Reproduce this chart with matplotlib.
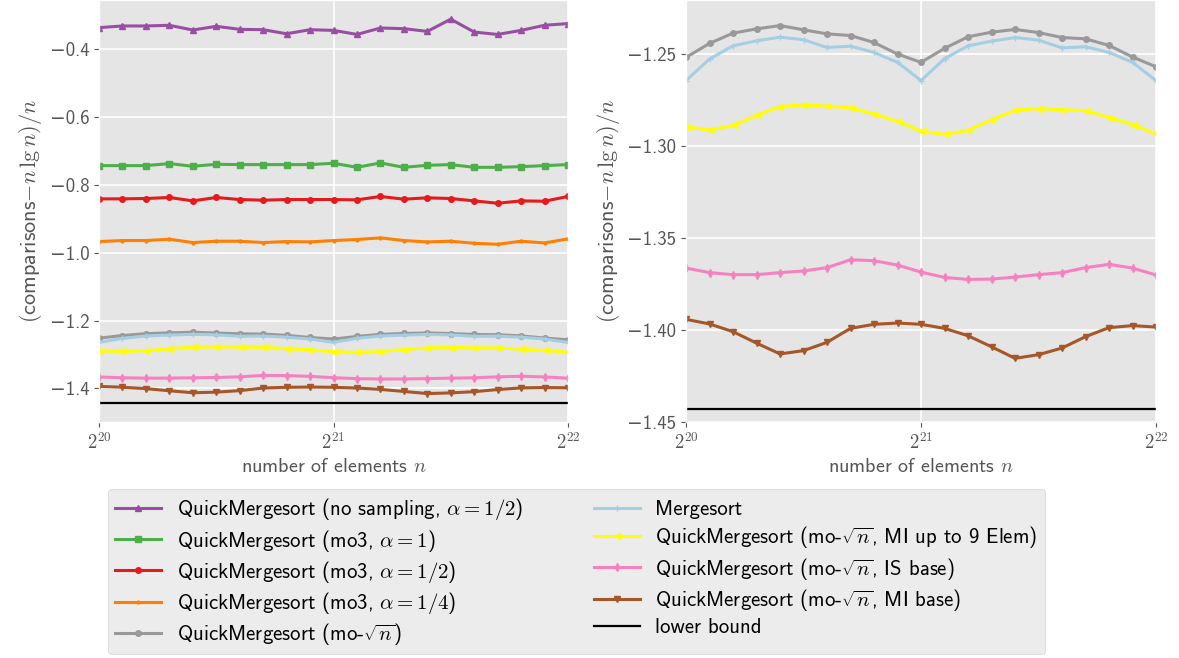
import numpy as np
import matplotlib
matplotlib.use("Agg")
import matplotlib.pyplot as plt

plt.style.use("ggplot")
plt.rcParams["font.family"] = ["cmss10", "DejaVu Sans"]
plt.rcParams["mathtext.fontset"] = "cm"
plt.rcParams["font.size"] = 13
plt.rcParams["axes.formatter.use_mathtext"] = False

# n = 2^(20 + k/10), k = 0..20
exps = [20 + k / 10 for k in range(21)]

no_sampling = [-0.336, -0.331, -0.331, -0.329, -0.343, -0.332, -0.341, -0.342, -0.354, -0.342, -0.344,
               -0.356, -0.337, -0.339, -0.347, -0.311, -0.349, -0.356, -0.344, -0.329, -0.324]
mo3_a1 = [-0.743, -0.743, -0.743, -0.737, -0.745, -0.739, -0.740, -0.740, -0.740, -0.740, -0.736,
          -0.748, -0.735, -0.748, -0.742, -0.740, -0.748, -0.748, -0.746, -0.743, -0.740]
mo3_a12 = [-0.841, -0.841, -0.840, -0.837, -0.847, -0.837, -0.843, -0.845, -0.843, -0.843, -0.843,
           -0.844, -0.834, -0.842, -0.838, -0.840, -0.847, -0.854, -0.847, -0.848, -0.834]
mo3_a14 = [-0.967, -0.964, -0.964, -0.960, -0.970, -0.966, -0.966, -0.970, -0.967, -0.968, -0.964,
           -0.961, -0.956, -0.964, -0.968, -0.966, -0.972, -0.975, -0.966, -0.971, -0.959]
mo_sqrt = [-1.2518, -1.2442, -1.2386, -1.2363, -1.2345, -1.2368, -1.2390, -1.2399, -1.2437, -1.2500, -1.2545,
           -1.2469, -1.2406, -1.2381, -1.2366, -1.2383, -1.2410, -1.2417, -1.2453, -1.2516, -1.2569]
mergesort = [-1.2644, -1.2527, -1.2455, -1.2428, -1.2408, -1.2422, -1.2464, -1.2457, -1.2491, -1.2545, -1.2644,
             -1.2525, -1.2455, -1.2430, -1.2410, -1.2424, -1.2466, -1.2460, -1.2491, -1.2545, -1.2644]
mi_9 = [-1.2895, -1.2913, -1.2888, -1.2832, -1.2785, -1.2776, -1.2783, -1.2792, -1.2827, -1.2866, -1.2919,
        -1.2937, -1.2915, -1.2856, -1.2805, -1.2796, -1.2803, -1.2807, -1.2845, -1.2883, -1.2935]
is_base = [-1.3663, -1.3688, -1.3699, -1.3699, -1.3688, -1.3679, -1.3661, -1.3618, -1.3623, -1.3647, -1.3685,
           -1.3714, -1.3725, -1.3723, -1.3712, -1.3699, -1.3688, -1.3661, -1.3643, -1.3663, -1.3701]
mi_base = [-1.3942, -1.3967, -1.4009, -1.4071, -1.4130, -1.4112, -1.4067, -1.3991, -1.3969, -1.3962, -1.3969,
           -1.3991, -1.4031, -1.4091, -1.4154, -1.4134, -1.4098, -1.4036, -1.3987, -1.3976, -1.3984]
lower_bound = -1.4427

series = [
    ("QuickMergesort (no sampling, $\\alpha = 1/2$)", no_sampling, "#984ea3", "^"),
    ("QuickMergesort (mo3, $\\alpha = 1$)", mo3_a1, "#4daf4a", "s"),
    ("QuickMergesort (mo3, $\\alpha = 1/2$)", mo3_a12, "#e41a1c", "o"),
    ("QuickMergesort (mo3, $\\alpha = 1/4$)", mo3_a14, "#ff7f00", "."),
    ("QuickMergesort (mo-$\\sqrt{n}$)", mo_sqrt, "#999999", "o"),
    ("Mergesort", mergesort, "#a6cee3", "+"),
    ("QuickMergesort (mo-$\\sqrt{n}$, MI up to 9 Elem)", mi_9, "#ffff00", "<"),
    ("QuickMergesort (mo-$\\sqrt{n}$, IS base)", is_base, "#f781bf", "d"),
    ("QuickMergesort (mo-$\\sqrt{n}$, MI base)", mi_base, "#a65628", "v"),
]

n = [2 ** e for e in exps]

fig = plt.figure(figsize=(11.79, 6.58), dpi=100)
ax1 = fig.add_axes([99 / 1179, 1 - 422 / 658, 469 / 1179, 422 / 658])
ax2 = fig.add_axes([686 / 1179, 1 - 422 / 658, 470 / 1179, 422 / 658])

for ax, first in [(ax1, 0), (ax2, 4)]:
    for label, vals, col, mk in series[first:]:
        ax.plot(n, vals, color=col, marker=mk, markersize=4, linewidth=2.2, label=label)
    ax.plot([n[0], n[-1]], [lower_bound, lower_bound], color="black", linewidth=1.6, label="lower bound")
    ax.set_xscale("log", base=2)
    ax.set_xlim(2 ** 20, 2 ** 22)
    ax.set_xticks([2 ** 20, 2 ** 21, 2 ** 22])
    ax.set_xticklabels(["$2^{20}$", "$2^{21}$", "$2^{22}$"], fontsize=15)
    ax.minorticks_off()
    ax.set_xlabel("number of elements $n$", color="#555555", fontsize=14.5)
    ax.set_ylabel("$($comparisons$-n\\,\\lg n)/n$", color="#555555", fontsize=16)
    ax.tick_params(colors="#555555", labelsize=13.5)
    ax.grid(True, color="white", linewidth=1.2)

ax2.set_ylim(-1.45, -1.2206)
ax2.set_yticks([-1.25, -1.30, -1.35, -1.40, -1.45])
ax2.set_yticklabels(["\u22121.25", "\u22121.30", "\u22121.35", "\u22121.40", "\u22121.45"])

handles, labels = ax1.get_legend_handles_labels()
fig.legend(handles, labels, loc="upper left", bbox_to_anchor=(108 / 1179, 1 - 489 / 658),
           ncol=2, fontsize=15, frameon=True, facecolor="#e8e8e8", edgecolor="#cccccc",
           handlelength=2.2, handletextpad=0.75, columnspacing=3.4, labelspacing=0.25,
           borderpad=0.35, borderaxespad=0)

fig.savefig("out.png", dpi=100)
